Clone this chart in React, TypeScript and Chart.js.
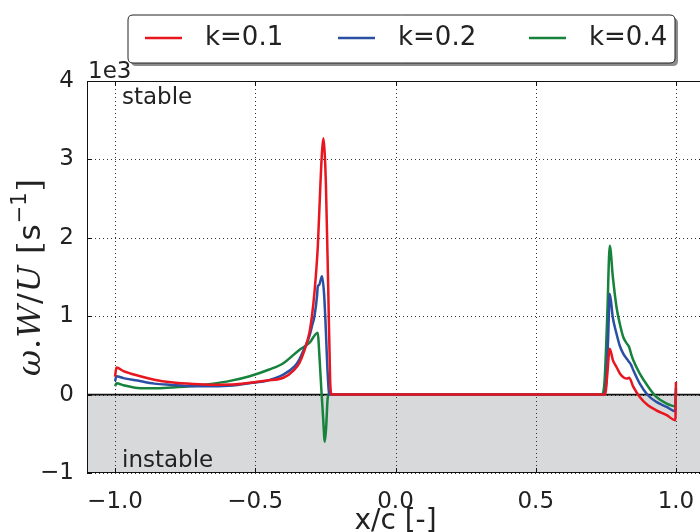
import React, { useEffect, useRef } from "react";
import { Chart, registerables } from "chart.js";

Chart.register(...registerables);

// ---- data (values in s^-1) ----
const xK01 = [-1.0, -0.995, -0.97, -0.92, -0.86, -0.8, -0.72, -0.65, -0.58, -0.52, -0.46, -0.4, -0.36, -0.343, -0.325, -0.307, -0.298, -0.289, -0.277, -0.268, -0.262, -0.257, -0.252, -0.248, -0.24, -0.233, -0.228, -0.2, 0.0, 0.5, 0.745, 0.75, 0.755, 0.764, 0.775, 0.788, 0.8, 0.815, 0.826, 0.833, 0.848, 0.871, 0.9, 0.93, 0.967, 0.998, 1.0];
const yK01 = [230, 345, 300, 243, 190, 157, 135, 126, 128, 150, 180, 215, 320, 400, 560, 790, 1000, 1300, 1890, 2660, 3100, 3270, 3050, 2660, 1380, 190, 0, 0, 0, 0, 0, 50, 250, 586, 440, 352, 270, 215, 205, 215, 98, -30, -136, -200, -263, -327, 160];

const xK02 = [-1.0, -0.995, -0.97, -0.92, -0.86, -0.8, -0.72, -0.65, -0.58, -0.52, -0.46, -0.4, -0.36, -0.343, -0.325, -0.307, -0.298, -0.289, -0.28, -0.277, -0.272, -0.262, -0.255, -0.25, -0.242, -0.236, -0.2, 0.0, 0.5, 0.74, 0.75, 0.758, 0.764, 0.775, 0.788, 0.8, 0.812, 0.826, 0.833, 0.84, 0.848, 0.871, 0.9, 0.93, 0.967, 0.998, 1.0];
const yK02 = [170, 234, 210, 179, 140, 124, 108, 106, 115, 145, 175, 255, 360, 447, 590, 745, 870, 1000, 1250, 1380, 1400, 1510, 1300, 960, 277, 0, 0, 0, 0, 0, 100, 700, 1287, 980, 777, 620, 522, 450, 416, 380, 310, 140, -8, -93, -157, -212, 80];

const xK04 = [-1.0, -0.995, -0.97, -0.92, -0.86, -0.8, -0.72, -0.65, -0.59, -0.52, -0.45, -0.4, -0.343, -0.307, -0.277, -0.273, -0.265, -0.258, -0.252, -0.247, -0.242, -0.236, -0.23, 0.0, 0.5, 0.735, 0.745, 0.755, 0.764, 0.775, 0.788, 0.8, 0.812, 0.825, 0.833, 0.84, 0.848, 0.871, 0.9, 0.93, 0.967, 0.998, 1.0];
const yK04 = [106, 145, 120, 85, 80, 90, 110, 140, 175, 235, 320, 400, 570, 660, 790, 600, 100, -300, -600, -400, -50, 20, 0, 0, 0, 0, 150, 1000, 1900, 1500, 1117, 900, 735, 650, 607, 520, 437, 267, 106, -30, -115, -149, 30];

const seriesLabels = ["k=0.1", "k=0.2", "k=0.4"];
const xTicks = [-1.0, -0.5, 0.0, 0.5, 1.0];
const yTicks = [-1000, 0, 1000, 2000, 3000, 4000];

const COLORS = ["#e8161f", "#2a4fa3", "#16823b"];
const TEXT = "#222222";
const CANVAS_W = 760;
const CANVAS_H = 532;

const fmtX = (v: number) => v.toFixed(1).replace("-", "\u2212");
const fmtY = (v: number) => String(Math.round(v / 1000)).replace("-", "\u2212");

const toPoints = (xs: number[], ys: number[]) => xs.map((x, i) => ({ x, y: ys[i] }));

const decor = {
  id: "decor",
  beforeDatasetsDraw(chart: any) {
    const { ctx, chartArea: ca, scales } = chart;
    const xs = scales.x;
    const ys = scales.y;
    ctx.save();
    const y0 = ys.getPixelForValue(0);
    ctx.fillStyle = "#d8d9db";
    ctx.fillRect(ca.left, y0, ca.right - ca.left, ca.bottom - y0);
    ctx.strokeStyle = "#333";
    ctx.lineWidth = 1;
    ctx.setLineDash([1, 3]);
    for (const v of xTicks) {
      const p = Math.round(xs.getPixelForValue(v)) + 0.5;
      ctx.beginPath();
      ctx.moveTo(p, ca.top);
      ctx.lineTo(p, ca.bottom);
      ctx.stroke();
    }
    for (const v of yTicks) {
      const p = Math.round(ys.getPixelForValue(v)) + 0.5;
      ctx.beginPath();
      ctx.moveTo(ca.left, p);
      ctx.lineTo(ca.right, p);
      ctx.stroke();
    }
    ctx.setLineDash([]);
    ctx.strokeStyle = "#111";
    ctx.lineWidth = 1.6;
    ctx.beginPath();
    ctx.moveTo(ca.left, y0);
    ctx.lineTo(ca.right, y0);
    ctx.stroke();
    ctx.restore();
  },
  afterDraw(chart: any) {
    const { ctx, chartArea: ca, scales } = chart;
    const xs = scales.x;
    const ys = scales.y;
    ctx.save();
    // border
    ctx.strokeStyle = "#111";
    ctx.lineWidth = 1;
    ctx.strokeRect(ca.left + 0.5, ca.top + 0.5, ca.right - ca.left - 1, ca.bottom - ca.top - 1);
    // inward ticks
    const tl = 5;
    ctx.beginPath();
    for (const v of xTicks) {
      const p = Math.round(xs.getPixelForValue(v)) + 0.5;
      ctx.moveTo(p, ca.bottom);
      ctx.lineTo(p, ca.bottom - tl);
      ctx.moveTo(p, ca.top);
      ctx.lineTo(p, ca.top + tl);
    }
    for (const v of yTicks) {
      const p = Math.round(ys.getPixelForValue(v)) + 0.5;
      ctx.moveTo(ca.left, p);
      ctx.lineTo(ca.left + tl, p);
      ctx.moveTo(ca.right, p);
      ctx.lineTo(ca.right - tl, p);
    }
    ctx.stroke();

    // texts
    ctx.fillStyle = TEXT;
    ctx.font = "23px 'DejaVu Sans'";
    ctx.textAlign = "left";
    ctx.textBaseline = "alphabetic";
    ctx.fillText("1e3", ca.left + 1, ca.top - 3);
    ctx.textBaseline = "middle";
    ctx.fillText("stable", 122, 98);
    ctx.fillText("instable", 122, 461);

    // x title
    ctx.font = "28px 'DejaVu Sans'";
    ctx.textAlign = "center";
    ctx.textBaseline = "alphabetic";
    ctx.fillText("x/c [-]", (ca.left + ca.right) / 2, 529);

    // y title (rotated, mixed fonts)
    const parts: { t: string; f: string; dy: number }[] = [
      { t: "\u03c9", f: "italic 32px 'DejaVu Serif'", dy: 0 },
      { t: ".", f: "32px 'DejaVu Serif'", dy: 0 },
      { t: "W", f: "italic 32px 'DejaVu Serif'", dy: 0 },
      { t: "/", f: "32px 'DejaVu Serif'", dy: 0 },
      { t: "U", f: "italic 32px 'DejaVu Serif'", dy: 0 },
      { t: " [", f: "32px 'DejaVu Serif'", dy: 0 },
      { t: "s", f: "31px 'DejaVu Sans'", dy: 0 },
      { t: "\u22121", f: "21px 'DejaVu Sans'", dy: -14 },
      { t: "]", f: "32px 'DejaVu Serif'", dy: 0 },
    ];
    let total = 0;
    const widths: number[] = [];
    for (const p of parts) {
      ctx.font = p.f;
      const w = ctx.measureText(p.t).width + 1;
      widths.push(w);
      total += w;
    }
    ctx.translate(40, (ca.top + ca.bottom) / 2);
    ctx.rotate(-Math.PI / 2);
    ctx.textAlign = "left";
    ctx.textBaseline = "alphabetic";
    let cx = -total / 2;
    parts.forEach((p, i) => {
      ctx.font = p.f;
      ctx.fillText(p.t, cx, p.dy);
      cx += widths[i];
    });
    ctx.setTransform(1, 0, 0, 1, 0, 0);

    // legend
    const bx = 128, by = 15, bw = 547, bh = 48, r = 5;
    const rr = (x: number, y: number) => {
      ctx.beginPath();
      ctx.moveTo(x + r, y);
      ctx.lineTo(x + bw - r, y);
      ctx.quadraticCurveTo(x + bw, y, x + bw, y + r);
      ctx.lineTo(x + bw, y + bh - r);
      ctx.quadraticCurveTo(x + bw, y + bh, x + bw - r, y + bh);
      ctx.lineTo(x + r, y + bh);
      ctx.quadraticCurveTo(x, y + bh, x, y + bh - r);
      ctx.lineTo(x, y + r);
      ctx.quadraticCurveTo(x, y, x + r, y);
      ctx.closePath();
    };
    rr(bx + 3, by + 3);
    ctx.fillStyle = "rgba(0,0,0,0.45)";
    ctx.fill();
    rr(bx, by);
    ctx.fillStyle = "#fff";
    ctx.fill();
    ctx.strokeStyle = "#222";
    ctx.lineWidth = 1;
    ctx.stroke();
    const lineX = [145, 338, 529];
    const textX = [205, 398, 589];
    const ly = 38;
    seriesLabels.forEach((lab, i) => {
      ctx.strokeStyle = COLORS[i];
      ctx.lineWidth = 2.5;
      ctx.beginPath();
      ctx.moveTo(lineX[i], ly);
      ctx.lineTo(lineX[i] + 37, ly);
      ctx.stroke();
      ctx.fillStyle = TEXT;
      ctx.font = "26px 'DejaVu Sans'";
      ctx.textAlign = "left";
      ctx.textBaseline = "middle";
      ctx.fillText(lab, textX[i], ly);
    });
    ctx.restore();
  },
};

export default function App() {
  const ref = useRef<HTMLCanvasElement>(null);
  useEffect(() => {
    if (!ref.current) return;
    const data = [
      toPoints(xK01, yK01),
      toPoints(xK02, yK02),
      toPoints(xK04, yK04),
    ];
    const chart = new Chart(ref.current, {
      type: "line",
      data: {
        datasets: data.map((d, i) => ({
          label: seriesLabels[i],
          data: d,
          borderColor: COLORS[i],
          backgroundColor: COLORS[i],
          borderWidth: 2.5,
          pointRadius: 0,
          fill: false,
          cubicInterpolationMode: "monotone" as const,
        })),
      },
      options: {
        responsive: false,
        animation: false,
        devicePixelRatio: 1,
        layout: { padding: { left: 0, right: CANVAS_W - 704, top: 81, bottom: 0 } },
        plugins: { legend: { display: false }, tooltip: { enabled: false } },
        scales: {
          x: {
            type: "linear",
            min: -1.1,
            max: 1.1,
            afterBuildTicks: (s: any) => {
              s.ticks = xTicks.map((v) => ({ value: v }));
            },
            afterFit: (s: any) => {
              s.height = 59;
            },
            grid: { display: false },
            border: { display: false },
            ticks: {
              autoSkip: false,
              maxRotation: 0,
              padding: 7,
              color: TEXT,
              font: { family: "'DejaVu Sans'", size: 23 },
              callback: (v: any) => fmtX(Number(v)),
            },
          },
          y: {
            type: "linear",
            min: -1000,
            max: 4000,
            afterBuildTicks: (s: any) => {
              s.ticks = yTicks.map((v) => ({ value: v }));
            },
            afterFit: (s: any) => {
              s.width = 87;
            },
            grid: { display: false },
            border: { display: false },
            ticks: {
              padding: 5,
              color: TEXT,
              font: { family: "'DejaVu Sans'", size: 23 },
              callback: (v: any) => fmtY(Number(v)),
            },
          },
        },
      },
      plugins: [decor],
    });
    return () => chart.destroy();
  }, []);
  return (
    <div
      style={{
        position: "fixed",
        left: 0,
        top: 0,
        width: 700,
        height: 532,
        overflow: "hidden",
        background: "#fff",
      }}
    >
      <canvas
        ref={ref}
        width={CANVAS_W}
        height={CANVAS_H}
        style={{ display: "block", width: CANVAS_W, height: CANVAS_H }}
      />
    </div>
  );
}
